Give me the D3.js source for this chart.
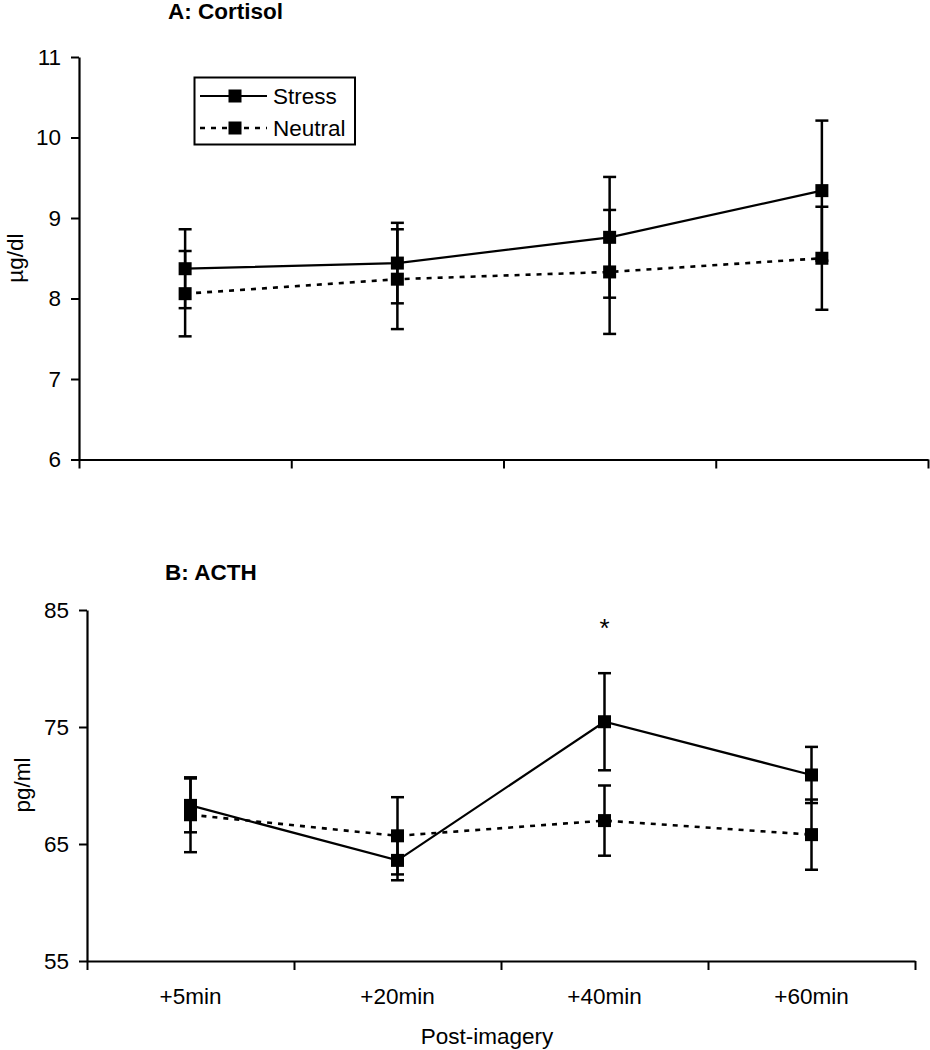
<!DOCTYPE html>
<html>
<head>
<meta charset="utf-8">
<script src="https://cdn.jsdelivr.net/npm/d3@7"></script>
<style>
  html, body { margin: 0; padding: 0; background: #fff; }
  svg { display: block; font-family: "Liberation Sans", Arial, sans-serif; }
</style>
</head>
<body>
<svg id="chart" width="930" height="1050"></svg>
<script>
// ---- Data ----
const categories = ["+5min", "+20min", "+40min", "+60min"];
const seriesNames = ["Stress", "Neutral"];

// Panel A: Cortisol (µg/dl)
const cortisolStress = [8.37, 8.44, 8.76, 9.34];
const cortisolStressErr = [0.49, 0.50, 0.75, 0.87];
const cortisolNeutral = [8.06, 8.24, 8.33, 8.50];
const cortisolNeutralErr = [0.53, 0.62, 0.77, 0.64];
const cortisolTicks = [6, 7, 8, 9, 10, 11];

// Panel B: ACTH (pg/ml)
const acthStress = [68.3, 63.6, 75.45, 70.9];
const acthStressErr = [2.3, 1.7, 4.15, 2.4];
const acthNeutral = [67.5, 65.7, 67.0, 65.8];
const acthNeutralErr = [3.2, 3.3, 3.0, 3.0];
const acthTicks = [55, 65, 75, 85];

const significance = [null, null, "*", null];

// ---- Drawing ----
const svg = d3.select("#chart");
const FONT = 22.5;

function panel(cfg) {
  const g = svg.append("g");
  const x = d3.scaleBand().domain(categories).range([cfg.x0, cfg.x1]);
  const xEdge = d3.scaleLinear().domain([0, categories.length]).range([cfg.x0, cfg.x1]);
  const y = d3.scaleLinear().domain(cfg.domain).range([cfg.yBottom, cfg.yTop]);
  const cx = c => x(c) + x.bandwidth() / 2;

  // Y axis
  const ya = g.append("g").attr("transform", `translate(${cfg.x0},0)`)
    .call(d3.axisLeft(y).tickValues(cfg.ticks).tickFormat(d3.format("d")).tickSize(8).tickPadding(10).tickSizeOuter(0));
  ya.select(".domain").attr("stroke", "#000").attr("stroke-width", 2.2);
  ya.selectAll(".tick line").attr("stroke", "#000").attr("stroke-width", 2);
  ya.selectAll(".tick text").attr("font-size", FONT).attr("fill", "#000")
    .attr("font-family", "'Liberation Sans', Arial, sans-serif");

  // X axis (ticks at category boundaries)
  const xa = g.append("g").attr("transform", `translate(0,${cfg.yBottom})`)
    .call(d3.axisBottom(xEdge).tickValues(d3.range(categories.length + 1)).tickFormat("").tickSize(9).tickSizeOuter(0));
  xa.select(".domain").attr("stroke", "#000").attr("stroke-width", 2.2);
  xa.selectAll(".tick line").attr("stroke", "#000").attr("stroke-width", 2);

  if (cfg.showXLabels) {
    g.selectAll(".xlab").data(categories).join("text")
      .attr("x", d => cx(d)).attr("y", cfg.yBottom + 43)
      .attr("text-anchor", "middle").attr("font-size", FONT).attr("fill", "#000")
      .text(d => d);
  }

  // Title
  g.append("text").attr("x", cfg.titleX).attr("y", cfg.titleY)
    .attr("font-size", FONT).attr("font-weight", "bold").attr("fill", "#000")
    .text(cfg.title);

  // Y label
  g.append("text")
    .attr("transform", `translate(${cfg.ylabX},${cfg.ylabY}) rotate(-90)`)
    .attr("text-anchor", "middle").attr("font-size", FONT).attr("fill", "#000")
    .text(cfg.ylabel);

  const series = [
    { vals: cfg.stress, err: cfg.stressErr, dash: null },
    { vals: cfg.neutral, err: cfg.neutralErr, dash: "5,6" }
  ];

  // Error bars
  series.forEach(s => {
    const eb = g.append("g");
    categories.forEach((c, i) => {
      const px = cx(c);
      const top = y(s.vals[i] + s.err[i]);
      const bot = y(s.vals[i] - s.err[i]);
      eb.append("line").attr("x1", px).attr("x2", px).attr("y1", top).attr("y2", bot)
        .attr("stroke", "#000").attr("stroke-width", 2.5);
      [top, bot].forEach(yy => {
        eb.append("line").attr("x1", px - 6.5).attr("x2", px + 6.5).attr("y1", yy).attr("y2", yy)
          .attr("stroke", "#000").attr("stroke-width", 2.5);
      });
    });
  });

  // Lines
  const line = d3.line().x((d, i) => cx(categories[i])).y(d => y(d));
  series.forEach(s => {
    g.append("path").datum(s.vals).attr("d", line)
      .attr("fill", "none").attr("stroke", "#000")
      .attr("stroke-width", s.dash ? 2.6 : 2.2)
      .attr("stroke-dasharray", s.dash);
  });

  // Markers
  const M = 13;
  series.forEach(s => {
    g.selectAll(null).data(s.vals).join("rect")
      .attr("x", (d, i) => cx(categories[i]) - M / 2)
      .attr("y", d => y(d) - M / 2)
      .attr("width", M).attr("height", M).attr("fill", "#000");
  });

  return { g, x, y, cx };
}

// Panel A
const A = panel({
  x0: 79, x1: 928, yTop: 57, yBottom: 459.5, domain: [6, 11], ticks: cortisolTicks,
  stress: cortisolStress, stressErr: cortisolStressErr,
  neutral: cortisolNeutral, neutralErr: cortisolNeutralErr,
  title: "A: Cortisol", titleX: 168, titleY: 19,
  ylabel: "\u00b5g/dl", ylabX: 23, ylabY: 258, showXLabels: false
});

// Legend
(function () {
  const lg = svg.append("g");
  lg.append("rect").attr("x", 194.5).attr("y", 77.5).attr("width", 160.5).attr("height", 67)
    .attr("fill", "#fff").attr("stroke", "#000").attr("stroke-width", 2);
  const rows = [{ name: seriesNames[0], dash: null, y: 96 }, { name: seriesNames[1], dash: "5,6", y: 128 }];
  rows.forEach(r => {
    lg.append("line").attr("x1", 200).attr("x2", 267).attr("y1", r.y).attr("y2", r.y)
      .attr("stroke", "#000").attr("stroke-width", r.dash ? 2.6 : 2.2).attr("stroke-dasharray", r.dash);
    lg.append("rect").attr("x", 235 - 6.5).attr("y", r.y - 6.5).attr("width", 13).attr("height", 13).attr("fill", "#000");
    lg.append("text").attr("x", 273).attr("y", r.y + 8).attr("font-size", FONT).attr("fill", "#000").text(r.name);
  });
})();

// Panel B
const B = panel({
  x0: 87, x1: 915, yTop: 610, yBottom: 961, domain: [55, 85], ticks: acthTicks,
  stress: acthStress, stressErr: acthStressErr,
  neutral: acthNeutral, neutralErr: acthNeutralErr,
  title: "B: ACTH", titleX: 165, titleY: 580,
  ylabel: "pg/ml", ylabX: 30, ylabY: 785, showXLabels: true
});

// Significance marker
B.g.selectAll(".sig").data(significance.map((s, i) => ({ s, c: categories[i] })).filter(d => d.s))
  .join("text")
  .attr("x", d => B.cx(d.c)).attr("y", 637)
  .attr("text-anchor", "middle").attr("font-size", 26).attr("fill", "#000")
  .text(d => d.s);

// X axis title
svg.append("text").attr("x", 487).attr("y", 1044).attr("text-anchor", "middle")
  .attr("font-size", FONT).attr("fill", "#000").text("Post-imagery");
</script>
</body>
</html>
